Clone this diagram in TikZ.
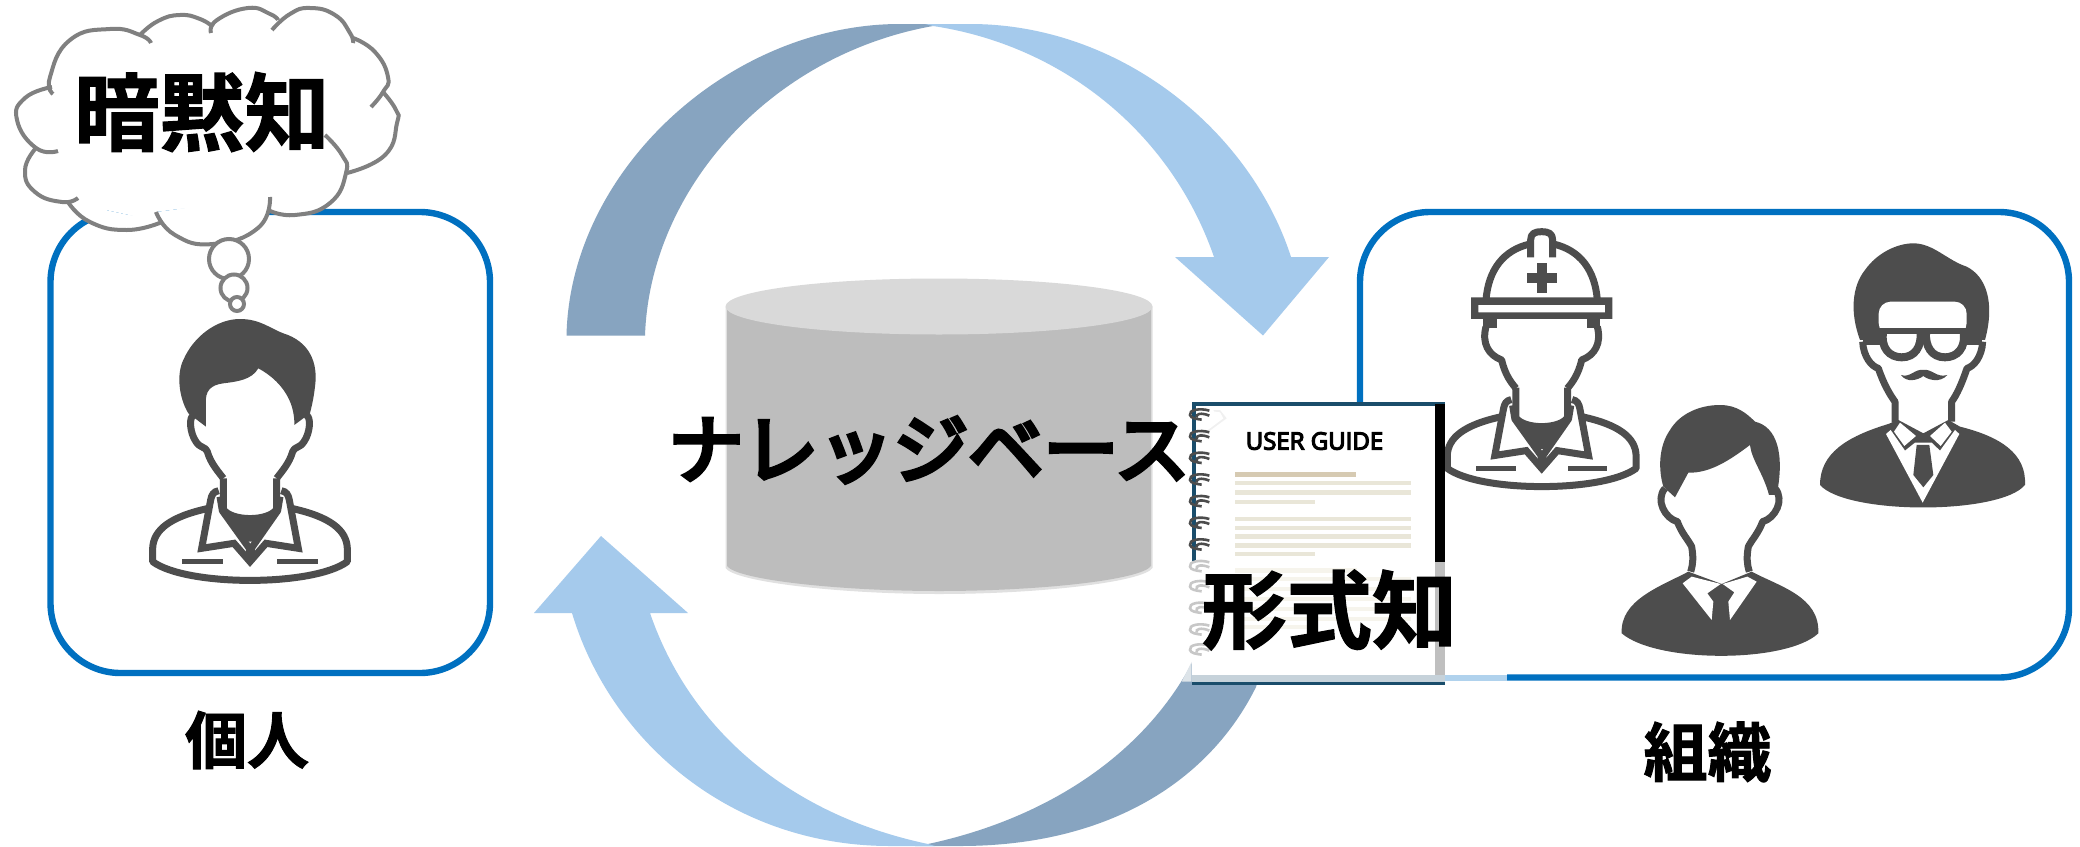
\documentclass[tikz,border=0pt]{standalone}
\usepackage{fontspec}
\newfontfamily\jp{Noto Sans CJK JP}
\newfontfamily\jpheavy[FakeBold=1.5]{Noto Sans CJK JP Bold}
\newfontfamily\jpmid[FakeBold=6]{Noto Sans CJK JP}
\newfontfamily\guidefont[FakeBold=5]{Open Sans}
\definecolor{boxblue}{HTML}{0070C0}
\definecolor{arrdark}{HTML}{87A4C0}
\definecolor{arrlight}{HTML}{A5CAEC}
\definecolor{icon}{HTML}{4D4D4D}
\definecolor{cloudgray}{HTML}{808080}
\definecolor{teal}{HTML}{1A4D6B}
\tikzset{
  panel/.style={draw=boxblue,line width=6.4pt,rounded corners=70pt},
  iconline/.style={draw=icon,line width=7pt,line join=round},
  iconfill/.style={fill=icon},
  cloudline/.style={draw=cloudgray,line width=4pt},
  lbl/.style={inner sep=0pt,text=black,font=\jpheavy},
  pageline/.style={fill=#1},
}
\newcommand{\cloudlobes}[1]{%
  \path[#1] plot[smooth,tension=.85] coordinates {(53,94)(50,77)(70,40)(110,29)(140,35)(151,43)};
  \path[#1] plot[smooth,tension=.85] coordinates {(140,35)(158,21)(180,15)(200,19)(213,27)};
  \path[#1] plot[smooth,tension=.85] coordinates {(211,33)(217,20)(248,8)(270,14)(278,20)};
  \path[#1] plot[smooth,tension=.85] coordinates {(272,30)(290,14)(310,8)(335,15)(350,33)(353,43)};
  \path[#1] plot[smooth,tension=.85] coordinates {(353,38)(375,52)(388,77)(383,92)(371,107)};
  \path[#1] plot[smooth,tension=.85] coordinates {(383,92)(396,110)(397,123)(385,155)(347,173)};
  \path[#1] plot[smooth,tension=.85] coordinates {(325,135)(342,155)(346,173)(330,203)(295,215)(268,210)};
  \path[#1] plot[smooth,tension=.85] coordinates {(270,197)(258,228)(213,244)(175,235)(156,212)};
  \path[#1] plot[smooth,tension=.85] coordinates {(162,222)(127,230)(90,222)(68,202)};
  \path[#1] plot[smooth,tension=.85] coordinates {(78,198)(62,202)(35,192)(25,170)(36,148)};
  \path[#1] plot[smooth,tension=.85] coordinates {(58,151)(36,148)(17,120)(25,98)(52,87)};
}
% torso shared by the two workers, in the coordinates of the first one
\newcommand{\workerbody}{%
  \draw[iconline] (310,535) -- (310,628) .. controls (335,665) and (445,665) .. (470,628) -- (470,535);
  \fill[iconfill] (325,645) .. controls (360,668) and (420,668) .. (458,645) -- (398,725) -- (382,725) -- cycle;
  \draw[iconline,miter limit=6,line join=miter] (296,572) .. controls (280,575) and (275,585) .. (272,600) -- (245,745) -- (342,730) -- (390,785) -- (438,730) -- (535,745) -- (508,600) .. controls (505,585) and (500,575) .. (484,572);
  \draw[iconline] (300,590) -- (307,632) -- (388,745) -- (388,775);
  \draw[iconline] (480,590) -- (473,632) -- (394,745) -- (394,775);
  \draw[iconline] (266,625) .. controls (150,650) and (100,690) .. (98,745) -- (98,785)
     .. controls (200,860) and (580,860) .. (682,785) -- (682,745) .. controls (680,690) and (630,650) .. (514,625);
  \fill[iconfill] (187,777) rectangle (310,793);
  \fill[iconfill] (470,777) rectangle (593,793);
}
\begin{document}
\begin{tikzpicture}[x=1pt,y=-1pt]
\useasboundingbox (0,0) rectangle (2080,846);
\fill[white] (0,0) rectangle (2080,846);
% panels
\draw[panel] (50.5,212) rectangle (490,673);
\draw[panel] (1360,212) rectangle (2069,677.5);
\fill[white] (1300,660) rectangle (1445,690);
\fill[white] (1440,670) rectangle (1507,684);
\fill[fill=boxblue!25!arrlight!60!white] (1445,674.5) rectangle (1507,680.5);
% arrows
\fill[arrdark] (566.5,335.5) .. controls (570,170) and (730,24) .. (900,24) -- (950,24) -- (933,26)
   .. controls (770,55) and (650,190) .. (645,335.5) -- cycle;
\fill[arrlight] (933,26) -- (925,24) -- (970,24) .. controls (1120,24) and (1250,130) .. (1291,257)
   -- (1329,257) -- (1263,335.5) -- (1175,257) -- (1214,257) .. controls (1170,130) and (1060,45) .. (933,26) -- cycle;
\fill[arrdark] (928,844) .. controls (1040,820) and (1140,760) .. (1192,663) -- (1200,640) -- (1270,640) -- (1256,687)
   .. controls (1210,780) and (1110,846) .. (960,846) -- (915,846) -- cycle;
\fill[arrlight] (928,844) .. controls (790,815) and (690,730) .. (650,613) -- (688,613) -- (601,536) -- (534,613) -- (572,613)
   .. controls (610,740) and (730,846) .. (890,846) -- (935,846) -- cycle;
% cylinder
\fill[fill=black!12] (725.5,306.5) -- (725.5,568) .. controls (735,582) and (840,594) .. (939,594) .. controls (1040,594) and (1143,582) .. (1152.5,568) -- (1152.5,306.5) -- cycle;
\fill[fill=black!26] (727,306.5) -- (727,566) .. controls (737,580) and (840,591) .. (939,591) .. controls (1040,591) and (1141,580) .. (1151,566) -- (1151,306.5) -- cycle;
\fill[fill=black!15] (939,306.5) ellipse [x radius=213.5,y radius=28];
\node[inner sep=0pt,font=\jpmid] (kb) at (929,450) {\fontsize{75}{75}\selectfont ナレッジベース};
% cloud
\fill[white] (53,94) -- (140,35) -- (213,27) -- (278,20) -- (353,43) -- (383,92) -- (347,173) -- (268,210) -- (270,197) -- (156,212) -- (162,222) -- (68,202) -- (78,198) -- (36,148) -- (58,151) -- cycle;
\cloudlobes{fill=white}
\cloudlobes{cloudline}
\draw[cloudline,fill=white] (229,259) circle (20);
\draw[cloudline,fill=white] (234,288) circle (13.5);
\draw[cloudline,fill=white] (237,304) circle (7);
\node[lbl] (tacit) at (202,112) {\fontsize{85}{85}\selectfont 暗黙知};
% person 1
\begin{scope}[shift={(120,300)},x=0.3333pt,y=-0.3333pt]
  \fill[iconfill] (258,380) -- (205,340) .. controls (175,290) and (170,220) .. (190,180) .. controls (220,110) and (290,57) .. (360,57)
     .. controls (420,57) and (450,85) .. (490,100) .. controls (570,125) and (595,190) .. (585,260) .. controls (582,290) and (575,320) .. (570,340)
     -- (523,375) .. controls (525,300) and (480,240) .. (415,205) .. controls (395,240) and (350,245) .. (310,250) .. controls (270,255) and (255,275) .. (258,310) -- cycle;
  \draw[iconline] (222,345) .. controls (205,350) and (210,400) .. (228,425) .. controls (240,445) and (258,440) .. (262,455) .. controls (272,490) and (295,515) .. (310,535);
  \draw[iconline] (558,345) .. controls (575,350) and (570,400) .. (552,425) .. controls (540,445) and (522,440) .. (518,455) .. controls (508,490) and (485,515) .. (470,535);
  \workerbody
\end{scope}
% worker with helmet
\begin{scope}[shift={(1415.6,214.6)},x=0.3233pt,y=-0.3233pt]
  \workerbody
\end{scope}
\begin{scope}[shift={(1420,220)},x=0.3333pt,y=-0.3333pt]
  \draw[iconline] (198,240) .. controls (205,150) and (250,90) .. (330,72);
  \draw[iconline] (532,240) .. controls (525,150) and (480,90) .. (400,72);
  \draw[iconline] (332,112) -- (332,60) .. controls (332,40) and (345,35) .. (365,35) .. controls (385,35) and (398,40) .. (398,60) -- (398,112);
  \fill[iconfill] (350,130) rectangle (380,220);
  \fill[iconfill] (320,160) rectangle (410,190);
  \fill[iconfill,even odd rule] (153,232) rectangle (577,297) (175,255) rectangle (555,277);
  \fill[iconfill] (190,297) rectangle (230,325);
  \fill[iconfill] (500,297) rectangle (540,325);
  \draw[iconline] (198,320) .. controls (185,370) and (205,405) .. (245,420) .. controls (255,465) and (275,490) .. (288,505);
  \draw[iconline] (532,320) .. controls (545,370) and (525,405) .. (485,420) .. controls (475,465) and (455,490) .. (442,505);
\end{scope}
% suited man
\begin{scope}[shift={(1600,380)},x=0.3333pt,y=-0.3333pt]
  \fill[iconfill] (225,352) -- (190,320) .. controls (175,270) and (175,200) .. (210,150) .. controls (240,100) and (300,75) .. (360,75)
    .. controls (410,75) and (440,100) .. (465,125) .. controls (530,140) and (555,220) .. (530,345) -- (507,345) .. controls (490,280) and (455,240) .. (450,195)
    .. controls (390,240) and (330,280) .. (265,278) -- cycle;
  \draw[iconline] (195,325) .. controls (165,360) and (195,415) .. (232,425) .. controls (245,460) and (265,480) .. (275,500) .. controls (280,530) and (280,550) .. (272,575);
  \draw[iconline] (525,325) .. controls (555,360) and (525,415) .. (488,425) .. controls (475,460) and (455,480) .. (445,500) .. controls (440,530) and (440,550) .. (448,575);
  \fill[iconfill] (65,760) .. controls (60,660) and (180,620) .. (265,575) -- (365,612) -- (455,575) .. controls (540,620) and (660,650) .. (655,760)
    .. controls (560,850) and (170,850) .. (65,760) -- cycle;
  \fill[white] (248,610) -- (275,590) -- (362,612) -- (322,640) -- (340,665) -- (335,720) -- cycle;
  \fill[white] (470,605) -- (442,590) -- (368,612) -- (403,637) -- (385,665) -- (390,720) -- cycle;
\end{scope}
% man with glasses
\begin{scope}[shift={(1800,220)},x=0.3333pt,y=-0.3333pt]
  \fill[iconfill] (340,70) .. controls (400,70) and (440,120) .. (500,140) .. controls (560,170) and (585,250) .. (555,360) -- (180,360) .. controls (150,280) and (155,200) .. (195,150) .. controls (230,100) and (290,70) .. (340,70) -- cycle;
  \fill[white,rounded corners=12pt] (236,245) rectangle (500,345);
  \fill[white] (205,362) rectangle (530,430);
  \fill[white] (240,340) rectangle (500,420);
  \draw[iconline] (188,365) .. controls (190,410) and (215,440) .. (235,445) .. controls (250,490) and (270,525) .. (285,545) -- (285,608);
  \draw[iconline] (548,365) .. controls (546,410) and (521,440) .. (501,445) .. controls (486,490) and (470,525) .. (455,545) -- (455,605);
  \fill[iconfill] (240,323) rectangle (500,341);
  \draw[line width=8pt,draw=icon] (250,332) .. controls (240,385) and (270,412) .. (305,412) .. controls (345,412) and (365,380) .. (362,335);
  \draw[line width=8pt,draw=icon] (490,332) .. controls (500,385) and (470,412) .. (435,412) .. controls (395,412) and (375,380) .. (378,335);
  \draw[iconline] (190,365) -- (250,365);
  \draw[iconline] (490,365) -- (546,365);
  \fill[iconfill] (303,465) .. controls (330,475) and (345,445) .. (370,450) .. controls (395,445) and (410,475) .. (442,465) .. controls (420,490) and (385,480) .. (370,468) .. controls (355,480) and (320,490) .. (303,465) -- cycle;
  \fill[iconfill] (60,795) .. controls (60,700) and (140,650) .. (265,612) -- (295,600) -- (370,640) -- (445,600) -- (480,620) .. controls (600,650) and (680,700) .. (675,795)
    .. controls (600,885) and (140,885) .. (60,795) -- cycle;
  \fill[white] (258,642) -- (272,630) -- (315,692) -- (345,668) -- (395,668) -- (420,692) -- (465,630) -- (478,642) -- (368,848) -- cycle;
  \fill[white] (300,608) -- (348,648) -- (313,678) -- (282,635) -- cycle;
  \fill[white] (435,608) -- (390,648) -- (422,678) -- (455,635) -- cycle;
  \fill[iconfill] (350,675) -- (388,675) -- (400,765) -- (370,802) -- (340,765) -- cycle;
\end{scope}
% book
\begin{scope}[shift={(1170,380)},x=0.3333pt,y=-0.3333pt]
  \fill[white] (65,65) rectangle (825,915);
  \fill[teal] (65,65) rectangle (825,78);
  \fill[teal] (65,78) rectangle (78,545);
  \fill[black] (795,72) rectangle (825,545);
  \fill[black!25] (795,545) rectangle (825,905);
  \fill[fill=teal!25] (65,885) rectangle (825,905);
  \fill[teal] (65,905) rectangle (825,915);
  \fill[fill=teal!15] (35,905) -- (65,905) -- (65,845) -- cycle;
  \fill[pageline={white}] (78,78) rectangle (795,885);
  \fill[fill=black!6] (130,90) -- (150,90) -- (170,115) -- (95,170) -- (90,160) -- (150,115) -- cycle;
  \fill[white] (135,95) -- (150,97) -- (160,115) -- (100,160) -- cycle;
  \definecolor{tanline}{HTML}{D6CAB2}
  \definecolor{creamline}{HTML}{E9E6D8}
  \definecolor{paleline}{HTML}{F6F4EC}
  \fill[fill=tanline] (195,275) rectangle (557,290);
  \foreach \ya/\xb in {302/723,331/723,360/435,410/723,437/723,463/723,490/723,516/435}
    \fill[fill=creamline] (195,\ya) rectangle (\xb,\ya+13);
  \foreach \ya/\xb in {565/560,590/723,620/723,650/723,680/723,710/723,735/435}
    \fill[fill=paleline] (195,\ya) rectangle (\xb,\ya+13);
  \foreach \ya in {105,170,235,300,365,430,495} {
    \draw[black!70,line width=2.6pt] (118,\ya-13) .. controls (90,\ya-22) and (55,\ya-15) .. (60,\ya) .. controls (62,\ya+10) and (80,\ya+12) .. (95,\ya+14);
    \draw[black!70,line width=2.6pt] (118,\ya+2) .. controls (95,\ya-8) and (75,\ya-4) .. (80,\ya+8);
  }
  \foreach \ya in {560,620,685,750,810} {
    \draw[black!22,line width=2.6pt] (118,\ya-13) .. controls (90,\ya-22) and (55,\ya-15) .. (60,\ya) .. controls (62,\ya+10) and (80,\ya+12) .. (95,\ya+14);
    \draw[black!22,line width=2.6pt] (118,\ya+2) .. controls (95,\ya-8) and (75,\ya-4) .. (80,\ya+8);
  }
\end{scope}
\node[inner sep=0pt,font=\guidefont] (guide) at (1314.5,441) {\fontsize{24}{24}\selectfont USER GUIDE};
\node[lbl] (explicit) at (1329.5,610) {\fontsize{85}{85}\selectfont 形式知};
\node[lbl] (indiv) at (247,740) {\fontsize{62}{62}\selectfont 個人};
\node[lbl] (org) at (1707.5,752) {\fontsize{64}{64}\selectfont 組織};
\end{tikzpicture}
\end{document}
